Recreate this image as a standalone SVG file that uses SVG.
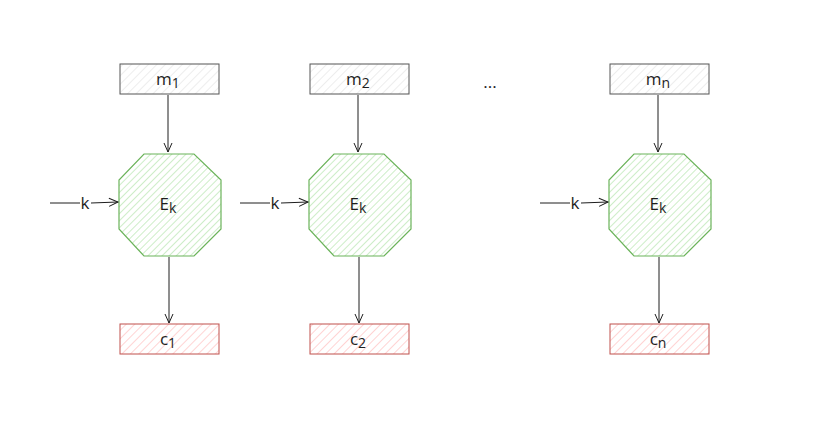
<svg xmlns="http://www.w3.org/2000/svg" width="827" height="432" viewBox="0 0 827 432">
<defs>
<pattern id="hg" patternUnits="userSpaceOnUse" width="5" height="5" patternTransform="rotate(45)"><line x1="0" y1="0" x2="0" y2="5" stroke="#b8e6b0" stroke-width="1.4"/></pattern>
<pattern id="hr" patternUnits="userSpaceOnUse" width="6" height="6" patternTransform="rotate(45)"><line x1="0" y1="0" x2="0" y2="6" stroke="#ffc9c9" stroke-width="1.6"/></pattern>
<pattern id="hw" patternUnits="userSpaceOnUse" width="6" height="6" patternTransform="rotate(45)"><line x1="0" y1="0" x2="0" y2="6" stroke="#e6e6e6" stroke-width="1.4"/></pattern>
<marker id="ar" markerWidth="12" markerHeight="12" refX="10" refY="5" orient="auto" markerUnits="userSpaceOnUse"><polyline points="1,1 10,5 1,9" fill="none" stroke="#1e1e1e" stroke-width="1"/></marker>
<g id="oct"><polygon points="144,154 194,154 221,180 221,229 194,256 144,256 119,229 119,180" fill="url(#hg)" stroke="#6bb35a" stroke-width="1.2"/></g>
</defs>
<style>
.m{fill:url(#hw);stroke:#555;stroke-width:1}
.c{fill:url(#hr);stroke:#c0504d;stroke-width:1}
.t{font-family:"Open Sans","Liberation Sans",sans-serif;font-size:17px;fill:#1e1e1e;text-anchor:middle}
.s{font-size:14px}
.e{stroke:#1e1e1e;stroke-width:1;fill:none}
</style>
<g id="m1"><rect class="m" x="120" y="64" width="99" height="30"/><text class="t" x="168" y="85">m<tspan class="s" dy="3">1</tspan></text></g>
<g id="m2"><rect class="m" x="310" y="64" width="99" height="30"/><text class="t" x="358" y="85">m<tspan class="s" dy="3">2</tspan></text></g>
<g id="mn"><rect class="m" x="610" y="64" width="99" height="30"/><text class="t" x="658" y="85">m<tspan class="s" dy="3">n</tspan></text></g>
<g id="dots"><text class="t" x="490" y="88">...</text></g>
<g id="e1"><use href="#oct"/><text class="t" x="168" y="210">E<tspan class="s" dy="3">k</tspan></text></g>
<g id="e2"><use href="#oct" x="190"/><text class="t" x="358" y="210">E<tspan class="s" dy="3">k</tspan></text></g>
<g id="en"><use href="#oct" x="490"/><text class="t" x="658" y="210">E<tspan class="s" dy="3">k</tspan></text></g>
<g id="c1"><rect class="c" x="120" y="324" width="99" height="30"/><text class="t" x="168" y="345">c<tspan class="s" dy="3">1</tspan></text></g>
<g id="c2"><rect class="c" x="310" y="324" width="99" height="30"/><text class="t" x="358" y="345">c<tspan class="s" dy="3">2</tspan></text></g>
<g id="cn"><rect class="c" x="610" y="324" width="99" height="30"/><text class="t" x="658" y="345">c<tspan class="s" dy="3">n</tspan></text></g>
<g id="connectors">
<line class="e" x1="168" y1="95" x2="168" y2="152" marker-end="url(#ar)"/>
<line class="e" x1="358" y1="95" x2="358" y2="152" marker-end="url(#ar)"/>
<line class="e" x1="658" y1="95" x2="658" y2="152" marker-end="url(#ar)"/>
<line class="e" x1="169" y1="257" x2="169" y2="323" marker-end="url(#ar)"/>
<line class="e" x1="359" y1="257" x2="359" y2="323" marker-end="url(#ar)"/>
<line class="e" x1="659" y1="257" x2="659" y2="323" marker-end="url(#ar)"/>
<line class="e" x1="50" y1="203" x2="80" y2="203"/><line class="e" x1="91" y1="203" x2="118" y2="202" marker-end="url(#ar)"/>
<line class="e" x1="240" y1="203" x2="270" y2="203"/><line class="e" x1="281" y1="203" x2="308" y2="202" marker-end="url(#ar)"/>
<line class="e" x1="540" y1="203" x2="570" y2="203"/><line class="e" x1="581" y1="203" x2="608" y2="202" marker-end="url(#ar)"/>
<text class="t" x="85" y="209">k</text>
<text class="t" x="275" y="209">k</text>
<text class="t" x="575" y="209">k</text>
</g>
</svg>
